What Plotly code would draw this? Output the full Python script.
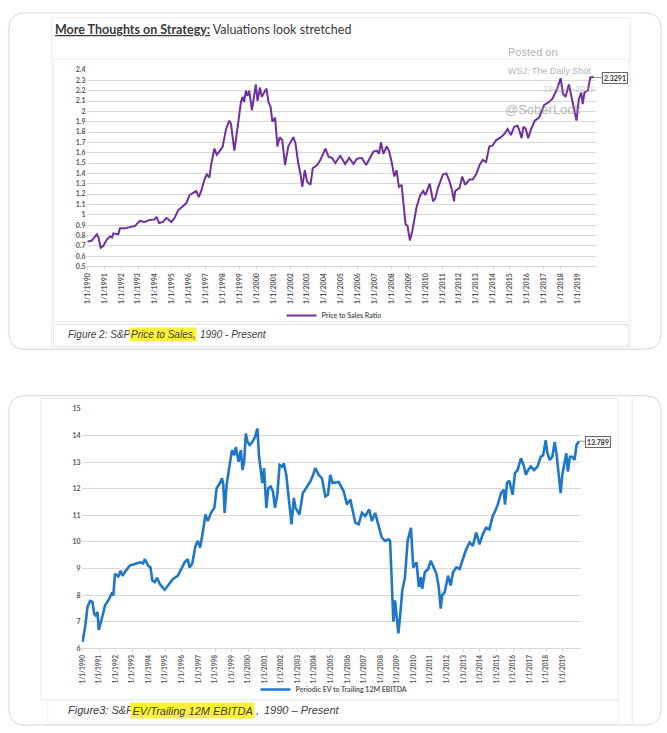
import plotly.graph_objects as go

W, H = 667, 733

# ---------------- data ----------------
ps_year = [1990.0, 1990.25, 1990.45, 1990.55, 1990.65, 1990.78, 1990.94, 1991.14, 1991.33, 1991.45,
           1991.53, 1991.82, 1991.92, 1992.22, 1992.51, 1992.80, 1993.10, 1993.39, 1993.69, 1993.98,
           1994.08, 1994.24, 1994.47, 1994.67, 1994.96, 1995.16, 1995.35, 1995.65, 1995.84, 1996.04,
           1996.33, 1996.43, 1996.59, 1996.73, 1996.92, 1997.06, 1997.22, 1997.31, 1997.51, 1997.65,
           1997.80, 1998.00, 1998.20, 1998.39, 1998.49, 1998.69, 1998.82, 1998.98, 1999.08, 1999.18,
           1999.27, 1999.37, 1999.47, 1999.57, 1999.73, 1999.86, 1999.96, 2000.06, 2000.20, 2000.31,
           2000.45, 2000.59, 2000.71, 2000.84, 2000.94, 2001.10, 2001.24, 2001.37, 2001.53, 2001.69,
           2001.88, 2002.02, 2002.18, 2002.31, 2002.47, 2002.61, 2002.71, 2002.86, 2003.00, 2003.20,
           2003.33, 2003.59, 2003.78, 2004.08, 2004.27, 2004.47, 2004.67, 2004.96, 2005.25, 2005.49,
           2005.74, 2005.94, 2006.23, 2006.49, 2006.72, 2006.92, 2007.12, 2007.25, 2007.37, 2007.51,
           2007.71, 2007.84, 2008.00, 2008.16, 2008.29, 2008.43, 2008.59, 2008.69, 2008.82, 2008.94,
           2009.08, 2009.22, 2009.47, 2009.67, 2009.86, 2010.00, 2010.25, 2010.45, 2010.59, 2010.74,
           2011.04, 2011.24, 2011.43, 2011.57, 2011.69, 2011.76, 2012.02, 2012.18, 2012.35, 2012.61,
           2012.80, 2013.00, 2013.20, 2013.39, 2013.59, 2013.78, 2013.98, 2014.18, 2014.47, 2014.67,
           2014.86, 2015.06, 2015.25, 2015.45, 2015.55, 2015.69, 2015.80, 2015.94, 2016.08, 2016.24,
           2016.47, 2016.73, 2017.02, 2017.31, 2017.51, 2017.80, 2018.00, 2018.14, 2018.29, 2018.49,
           2018.63, 2018.78, 2018.94, 2019.08, 2019.22, 2019.31, 2019.41, 2019.61, 2019.76, 2019.96]
ps_value = [0.74, 0.75, 0.79, 0.81, 0.78, 0.68, 0.70, 0.76, 0.79, 0.78,
            0.82, 0.81, 0.87, 0.87, 0.88, 0.89, 0.94, 0.93, 0.95, 0.955,
            0.98, 0.92, 0.93, 0.97, 0.93, 0.97, 1.04, 1.08, 1.11, 1.19,
            1.22, 1.23, 1.17, 1.23, 1.34, 1.39, 1.36, 1.48, 1.64, 1.58,
            1.61, 1.66, 1.83, 1.91, 1.88, 1.62, 1.77, 1.99, 2.09, 2.14,
            2.09, 2.20, 2.15, 2.20, 2.01, 2.15, 2.26, 2.10, 2.23, 2.14,
            2.18, 2.22, 2.09, 2.04, 1.90, 1.94, 1.66, 1.75, 1.72, 1.48,
            1.66, 1.70, 1.75, 1.69, 1.50, 1.39, 1.27, 1.43, 1.32, 1.29,
            1.45, 1.48, 1.53, 1.64, 1.56, 1.55, 1.50, 1.57, 1.49, 1.55,
            1.49, 1.54, 1.55, 1.48, 1.55, 1.61, 1.62, 1.59, 1.70, 1.59,
            1.66, 1.62, 1.51, 1.37, 1.43, 1.27, 1.29, 1.10, 0.91, 0.89,
            0.75, 0.84, 1.07, 1.18, 1.23, 1.19, 1.30, 1.13, 1.16, 1.26,
            1.39, 1.40, 1.32, 1.24, 1.13, 1.23, 1.26, 1.37, 1.29, 1.34,
            1.34, 1.39, 1.48, 1.53, 1.51, 1.66, 1.67, 1.72, 1.75, 1.78,
            1.83, 1.77, 1.85, 1.86, 1.82, 1.74, 1.85, 1.83, 1.74, 1.82,
            1.91, 1.94, 2.06, 2.09, 2.12, 2.22, 2.32, 2.17, 2.14, 2.26,
            2.15, 2.06, 1.91, 2.12, 2.18, 2.07, 2.18, 2.20, 2.33, 2.3291]

ev_year = [1990.0, 1990.16, 1990.3, 1990.46, 1990.6, 1990.7, 1990.82, 1990.9, 1990.98, 1991.1,
           1991.22, 1991.36, 1991.56, 1991.76, 1991.86, 1991.96, 1992.16, 1992.3, 1992.42, 1992.62,
           1992.86, 1993.16, 1993.46, 1993.66, 1993.76, 1993.96, 1994.1, 1994.22, 1994.36, 1994.5,
           1994.66, 1994.82, 1994.96, 1995.16, 1995.46, 1995.76, 1995.96, 1996.16, 1996.36, 1996.46,
           1996.62, 1996.82, 1996.96, 1997.1, 1997.26, 1997.42, 1997.56, 1997.76, 1997.96, 1998.1,
           1998.3, 1998.42, 1998.5, 1998.58, 1998.7, 1998.86, 1999.02, 1999.16, 1999.26, 1999.42,
           1999.56, 1999.66, 1999.76, 1999.86, 1999.96, 2000.1, 2000.26, 2000.42, 2000.56, 2000.66,
           2000.76, 2000.86, 2000.96, 2001.1, 2001.22, 2001.36, 2001.5, 2001.62, 2001.76, 2001.9,
           2002.06, 2002.16, 2002.3, 2002.46, 2002.62, 2002.76, 2002.86, 2003.1, 2003.3, 2003.56,
           2003.76, 2003.96, 2004.06, 2004.26, 2004.46, 2004.66, 2004.82, 2004.96, 2005.1, 2005.47,
           2005.77, 2005.97, 2006.17, 2006.47, 2006.67, 2006.87, 2007.07, 2007.31, 2007.47, 2007.67,
           2007.87, 2008.07, 2008.27, 2008.47, 2008.57, 2008.67, 2008.77, 2008.87, 2008.97, 2009.07,
           2009.17, 2009.31, 2009.47, 2009.63, 2009.83, 2009.97, 2010.17, 2010.31, 2010.43, 2010.51,
           2010.67, 2010.87, 2011.03, 2011.17, 2011.37, 2011.51, 2011.63, 2011.71, 2011.87, 2012.07,
           2012.23, 2012.37, 2012.57, 2012.77, 2012.97, 2013.17, 2013.37, 2013.57, 2013.77, 2013.97,
           2014.17, 2014.37, 2014.57, 2014.77, 2014.91, 2015.07, 2015.27, 2015.43, 2015.51, 2015.63,
           2015.77, 2015.97, 2016.11, 2016.27, 2016.47, 2016.63, 2016.77, 2016.91, 2017.07, 2017.27,
           2017.47, 2017.67, 2017.81, 2017.97, 2018.07, 2018.21, 2018.37, 2018.51, 2018.63, 2018.77,
           2018.87, 2018.97, 2019.11, 2019.21, 2019.31, 2019.43, 2019.57, 2019.71, 2019.83, 2019.97]
ev_value = [6.25, 6.81, 7.56, 7.78, 7.74, 7.31, 7.21, 7.37, 6.69, 6.94,
            7.25, 7.62, 7.80, 8.05, 7.99, 8.80, 8.70, 8.92, 8.73, 8.92,
            9.11, 9.17, 9.23, 9.19, 9.35, 9.11, 9.04, 8.55, 8.49, 8.65,
            8.42, 8.30, 8.20, 8.36, 8.61, 8.73, 8.98, 9.23, 9.35, 9.04,
            9.17, 9.85, 10.04, 9.79, 10.35, 11.03, 10.78, 11.09, 11.28, 12.02,
            12.21, 12.39, 12.15, 11.09, 12.15, 12.89, 13.45, 13.26, 13.57, 13.01,
            13.45, 12.70, 13.01, 14.07, 13.76, 13.64, 13.76, 13.95, 14.26, 13.20,
            12.77, 12.21, 12.77, 11.28, 12.02, 12.08, 11.90, 11.28, 11.77, 12.89,
            12.83, 12.95, 12.52, 11.53, 10.66, 11.65, 11.28, 11.03, 11.83, 12.08,
            12.27, 12.58, 12.77, 12.52, 12.39, 11.71, 11.77, 12.52, 12.21, 12.25,
            11.90, 11.40, 11.59, 10.72, 10.66, 11.09, 10.97, 11.22, 10.78, 11.09,
            10.60, 10.16, 10.04, 10.10, 10.04, 8.30, 7.00, 7.80, 7.06, 6.56,
            7.18, 8.18, 8.67, 10.04, 10.53, 9.04, 9.23, 8.30, 8.67, 8.24,
            8.86, 8.98, 9.29, 9.11, 8.80, 8.30, 7.49, 7.99, 8.11, 8.73,
            8.36, 8.86, 9.04, 8.98, 9.35, 9.73, 9.98, 9.85, 10.35, 9.91,
            10.29, 10.53, 10.47, 10.97, 11.15, 11.40, 11.83, 11.96, 11.40, 12.21,
            12.30, 11.77, 12.58, 12.70, 13.14, 12.89, 12.52, 12.70, 12.83, 12.70,
            12.83, 13.20, 13.26, 13.82, 13.33, 13.08, 13.20, 13.76, 13.26, 12.52,
            11.83, 12.52, 13.01, 13.33, 12.64, 13.20, 13.20, 13.08, 13.64, 13.789]

tick_years = list(range(1990, 2020))
tick_labels = ["1/1/" + str(y) for y in tick_years]
ps_ticks = [0.5, 0.6, 0.7, 0.8, 0.9, 1.0, 1.1, 1.2, 1.3, 1.4, 1.5, 1.6, 1.7, 1.8, 1.9, 2.0,
            2.1, 2.2, 2.3, 2.4]
ps_tick_labels = ["0.5", "0.6", "0.7", "0.8", "0.9", "1", "1.1", "1.2", "1.3", "1.4", "1.5",
                  "1.6", "1.7", "1.8", "1.9", "2", "2.1", "2.2", "2.3", "2.4"]
ev_ticks = [6, 7, 8, 9, 10, 11, 12, 13, 14, 15]
ev_tick_labels = ["6", "7", "8", "9", "10", "11", "12", "13", "14", "15"]

PURPLE = "#7030a0"
BLUE = "#1f77c9"
FONT = "Lato"
CAPFONT = "Liberation Sans"
TICKC = "#595959"
GRID = "#d9d9d9"


def px(x):
    return x / W


def py(y):
    return 1 - y / H


def rrect(x0, y0, x1, y1, r):
    return (f"M {px(x0 + r)},{py(y0)} L {px(x1 - r)},{py(y0)} Q {px(x1)},{py(y0)} {px(x1)},{py(y0 + r)} "
            f"L {px(x1)},{py(y1 - r)} Q {px(x1)},{py(y1)} {px(x1 - r)},{py(y1)} "
            f"L {px(x0 + r)},{py(y1)} Q {px(x0)},{py(y1)} {px(x0)},{py(y1 - r)} "
            f"L {px(x0)},{py(y0 + r)} Q {px(x0)},{py(y0)} {px(x0 + r)},{py(y0)} Z")


fig = go.Figure()
fig.add_trace(go.Scatter(x=ps_year, y=ps_value, mode="lines", name="Price to Sales Ratio",
                         line=dict(color=PURPLE, width=2), xaxis="x", yaxis="y", legend="legend"))
fig.add_trace(go.Scatter(x=ev_year, y=ev_value, mode="lines", name="Periodic EV to Trailing 12M EBITDA",
                         line=dict(color=BLUE, width=2.6), xaxis="x2", yaxis="y2", legend="legend2"))

tickfont = dict(family=FONT, size=7, color=TICKC, weight="bold")
tickfont2 = dict(family=FONT, size=6.5, color=TICKC, weight="bold")
xcommon = dict(tickmode="array", tickvals=tick_years, ticktext=tick_labels, tickangle=-90,
               showgrid=False, zeroline=False, showline=True, linecolor=GRID,
               ticks="outside", ticklen=3, tickcolor=GRID, fixedrange=True)
ycommon = dict(tickmode="array", tickfont=tickfont, showgrid=True, gridcolor=GRID, gridwidth=1,
               zeroline=False, showline=False, ticks="", fixedrange=True)

shapes = [
    # cards
    dict(type="path", path=rrect(5, 8, 661, 348, 16), xref="paper", yref="paper",
         line=dict(color="#cfd9e4", width=1), fillcolor="white", layer="below"),
    dict(type="path", path=rrect(5, 395, 661, 728, 16), xref="paper", yref="paper",
         line=dict(color="#cfd9e4", width=1), fillcolor="white", layer="below"),
    # top image frame
    dict(type="rect", xref="paper", yref="paper", x0=px(48), x1=px(630), y0=py(13), y1=py(347),
         line=dict(color="#ebebeb", width=1), fillcolor="rgba(0,0,0,0)", layer="below"),
    dict(type="rect", xref="paper", yref="paper", x0=px(50), x1=px(628), y0=py(55), y1=py(320),
         line=dict(color="#eeeeee", width=1), fillcolor="rgba(0,0,0,0)", layer="below"),
    dict(type="rect", xref="paper", yref="paper", x0=px(50), x1=px(628), y0=py(323), y1=py(345),
         line=dict(color="#e3e3e3", width=1), fillcolor="rgba(0,0,0,0)", layer="below"),
    # bottom image frame
    dict(type="rect", xref="paper", yref="paper", x0=px(37), x1=px(618), y0=py(398), y1=py(702),
         line=dict(color="#ececec", width=1), fillcolor="rgba(0,0,0,0)", layer="below"),
    dict(type="line", xref="paper", yref="paper", x0=px(632), x1=px(632), y0=py(397), y1=py(727),
         line=dict(color="#e6e6e6", width=1), layer="below"),
    dict(type="rect", xref="paper", yref="paper", x0=px(44), x1=px(618), y0=py(703), y1=py(726),
         line=dict(color="#eeeeee", width=1), fillcolor="rgba(0,0,0,0)", layer="below"),
]

ann = []
# title
ann.append(dict(text="<b><u>More Thoughts on Strategy:</u></b> Valuations look stretched",
                x=px(49), y=py(25), xref="paper", yref="paper", xanchor="left", yanchor="middle",
                showarrow=False, font=dict(family=FONT, size=12.5, color="#3a3a3a")))
# watermark
wm = "rgba(150,150,150,0.75)"
ann.append(dict(text="Posted on", x=px(505), y=py(48), xref="paper", yref="paper", xanchor="left",
                yanchor="middle", showarrow=False, font=dict(family="Liberation Sans", size=11, color=wm)))
ann.append(dict(text="WSJ: The Daily Shot", x=px(505), y=py(67), xref="paper", yref="paper", xanchor="left",
                yanchor="middle", showarrow=False, font=dict(family="Liberation Sans", size=9, color=wm)))
ann.append(dict(text="19-Dec-2019", x=px(540), y=py(85), xref="paper", yref="paper", xanchor="left",
                yanchor="middle", showarrow=False, font=dict(family="Liberation Sans", size=9,
                                                               color="rgba(170,170,170,0.55)")))
ann.append(dict(text="@SoberLook", x=px(502), y=py(106), xref="paper", yref="paper", xanchor="left",
                yanchor="middle", showarrow=False, font=dict(family="Liberation Sans", size=13,
                                                               color="rgba(150,150,150,0.7)")))
# end labels
ann.append(dict(text="<b>2.3291</b>", x=ps_year[-1], y=ps_value[-1], xref="x", yref="y",
                showarrow=True, arrowhead=0, arrowwidth=0.8, arrowcolor="#777777", ax=21, ay=1,
                bgcolor="white", bordercolor="#666666", borderwidth=1, borderpad=1,
                font=dict(family=FONT, size=7, color="#333333")))
ann.append(dict(text="<b>13.789</b>", x=ev_year[-1], y=ev_value[-1], xref="x2", yref="y2",
                showarrow=True, arrowhead=0, arrowwidth=0.8, arrowcolor="#777777", ax=19, ay=1,
                bgcolor="white", bordercolor="#666666", borderwidth=1, borderpad=1,
                font=dict(family=FONT, size=7, color="#333333")))
# captions
cap_font1 = dict(family=CAPFONT, size=10, color="#404040", style="italic")
ann.append(dict(text="Figure 2: S&amp;P", x=px(62), y=py(333), xref="paper", yref="paper",
                xanchor="left", yanchor="middle", showarrow=False, font=cap_font1))
ann.append(dict(text="Price to Sales,", x=px(126), y=py(333), xref="paper", yref="paper",
                xanchor="left", yanchor="middle", showarrow=False, font=cap_font1,
                bgcolor="#fff23a", borderpad=1))
ann.append(dict(text="1990 - Present", x=px(195), y=py(333), xref="paper", yref="paper",
                xanchor="left", yanchor="middle", showarrow=False, font=cap_font1))
cap_font2 = dict(family=CAPFONT, size=11, color="#404040", style="italic")
ann.append(dict(text="Figure3: S&amp;P", x=px(62), y=py(713), xref="paper", yref="paper",
                xanchor="left", yanchor="middle", showarrow=False, font=cap_font2))
ann.append(dict(text="EV/Trailing 12M EBITDA", x=px(127), y=py(713), xref="paper", yref="paper",
                xanchor="left", yanchor="middle", showarrow=False, font=cap_font2,
                bgcolor="#fff23a", borderpad=1.5))
ann.append(dict(text=",", x=px(252), y=py(713), xref="paper", yref="paper",
                xanchor="left", yanchor="middle", showarrow=False, font=cap_font2))
ann.append(dict(text="1990 – Present", x=px(260), y=py(713), xref="paper", yref="paper",
                xanchor="left", yanchor="middle", showarrow=False, font=cap_font2))

legfont = dict(family=FONT, size=7, color=TICKC, weight="bold")
fig.update_layout(
    width=W, height=H, margin=dict(l=0, r=0, t=0, b=0),
    paper_bgcolor="white", plot_bgcolor="rgba(0,0,0,0)",
    showlegend=True,
    xaxis=dict(domain=[px(83), px(596)], range=[1989.94, 2020.12], anchor="y", tickfont=tickfont, **xcommon),
    yaxis=dict(domain=[py(264.3), py(65.7)], range=[0.5, 2.4], anchor="x",
               tickvals=ps_ticks, ticktext=ps_tick_labels, **ycommon),
    xaxis2=dict(domain=[px(78), px(580)], range=[1989.94, 2020.07], anchor="y2", tickfont=tickfont2, **xcommon),
    yaxis2=dict(domain=[py(650.4), py(408.3)], range=[6, 15], anchor="x2",
                tickvals=ev_ticks, ticktext=ev_tick_labels, **ycommon),
    legend=dict(x=px(332), y=py(314), xanchor="center", yanchor="middle", orientation="h",
                font=legfont, bgcolor="rgba(0,0,0,0)", itemwidth=30),
    legend2=dict(x=px(332), y=py(692), xanchor="center", yanchor="middle", orientation="h",
                 font=legfont, bgcolor="rgba(0,0,0,0)", itemwidth=30),
    shapes=shapes, annotations=ann,
)

fig.write_html("out.html", config={"displayModeBar": False},
               post_script="document.body.style.margin='0';document.body.style.overflow='hidden';")
